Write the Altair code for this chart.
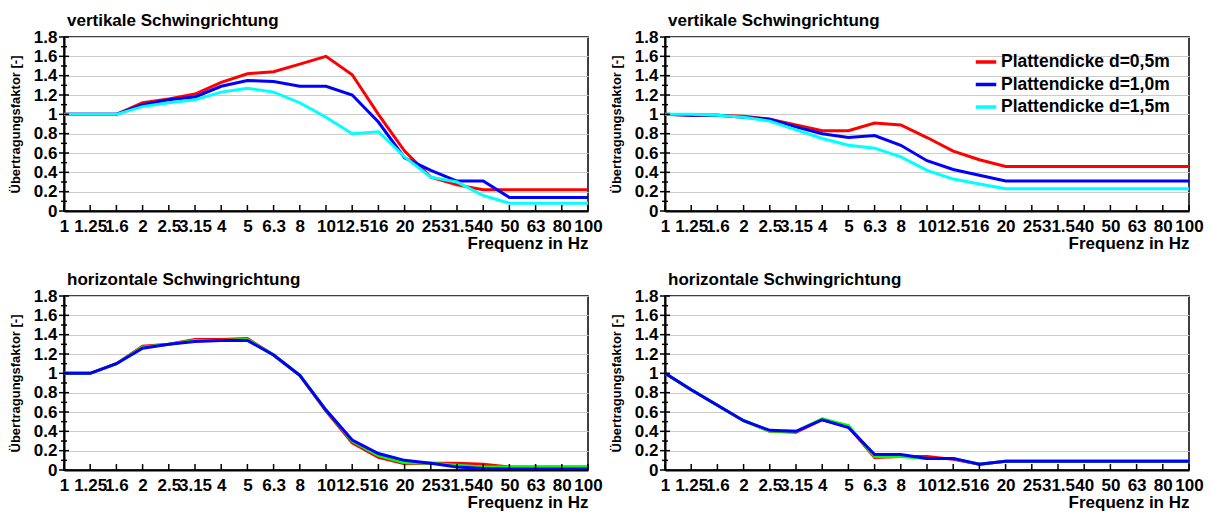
import altair as alt
import pandas as pd

freq = ["1", "1.25", "1.6", "2", "2.5", "3.15", "4", "5", "6.3", "8", "10",
        "12.5", "16", "20", "25", "31.5", "40", "50", "63", "80", "100"]

names = ["Plattendicke d=0,5m", "Plattendicke d=1,0m", "Plattendicke d=1,5m"]

# vertical, left
tl_red = [1.00, 1.00, 1.00, 1.12, 1.16, 1.21, 1.33, 1.42, 1.44, 1.52, 1.60,
          1.41, 1.00, 0.62, 0.35, 0.27, 0.22, 0.22, 0.22, 0.22, 0.22]
tl_blue = [1.00, 1.00, 1.00, 1.10, 1.15, 1.18, 1.29, 1.35, 1.34, 1.29, 1.29,
           1.20, 0.92, 0.55, 0.42, 0.31, 0.31, 0.14, 0.14, 0.14, 0.14]
tl_cyan = [1.00, 1.00, 1.00, 1.08, 1.12, 1.15, 1.23, 1.27, 1.23, 1.12, 0.97,
           0.80, 0.82, 0.56, 0.35, 0.30, 0.16, 0.08, 0.08, 0.08, 0.08]

# vertical, right
tr_red = [1.00, 0.99, 0.99, 0.98, 0.95, 0.89, 0.83, 0.83, 0.91, 0.89, 0.76,
          0.62, 0.53, 0.46, 0.46, 0.46, 0.46, 0.46, 0.46, 0.46, 0.46]
tr_blue = [1.00, 0.99, 0.99, 0.97, 0.95, 0.87, 0.80, 0.76, 0.78, 0.68, 0.52,
           0.43, 0.37, 0.31, 0.31, 0.31, 0.31, 0.31, 0.31, 0.31, 0.31]
tr_cyan = [1.00, 1.00, 0.99, 0.97, 0.93, 0.84, 0.75, 0.68, 0.65, 0.56, 0.42,
           0.33, 0.28, 0.23, 0.23, 0.23, 0.23, 0.23, 0.23, 0.23, 0.23]

# horizontal, left
bl_red = [1.00, 1.00, 1.10, 1.28, 1.30, 1.35, 1.35, 1.36, 1.19, 0.98, 0.61,
          0.28, 0.13, 0.065, 0.07, 0.07, 0.06, 0.03, 0.03, 0.03, 0.03]
bl_green = [1.00, 1.00, 1.10, 1.27, 1.30, 1.34, 1.34, 1.35, 1.19, 0.98, 0.62,
            0.30, 0.15, 0.075, 0.07, 0.05, 0.03, 0.03, 0.03, 0.03, 0.03]
bl_blue = [1.00, 1.00, 1.10, 1.26, 1.30, 1.33, 1.34, 1.34, 1.19, 0.98, 0.62,
           0.31, 0.17, 0.10, 0.07, 0.03, 0.015, 0.01, 0.01, 0.01, 0.01]

# horizontal, right
br_red = [1.00, 0.83, 0.67, 0.51, 0.40, 0.39, 0.52, 0.45, 0.13, 0.14, 0.14,
          0.11, 0.06, 0.09, 0.09, 0.09, 0.09, 0.09, 0.09, 0.09, 0.09]
br_green = [1.00, 0.83, 0.67, 0.51, 0.40, 0.40, 0.53, 0.46, 0.14, 0.14, 0.12,
            0.12, 0.06, 0.09, 0.09, 0.09, 0.09, 0.09, 0.09, 0.09, 0.09]
br_blue = [1.00, 0.83, 0.67, 0.51, 0.41, 0.40, 0.52, 0.44, 0.16, 0.16, 0.12,
           0.12, 0.06, 0.09, 0.09, 0.09, 0.09, 0.09, 0.09, 0.09, 0.09]

y_major = [0, 0.2, 0.4, 0.6, 0.8, 1.0, 1.2, 1.4, 1.6, 1.8]
y_minor = [0.1, 0.3, 0.5, 0.7, 0.9, 1.1, 1.3, 1.5, 1.7]

top_colors = ["#ff0000", "#0000ff", "#00ffff"]
bottom_colors = ["#ff0000", "#00ff00", "#0000ff"]

FONT = "Liberation Sans"
W, H = 524, 174

xscale = alt.Scale(type="point", padding=0, domain=freq)
yscale = alt.Scale(domain=[0, 1.8], nice=False, zero=True)
x_axis = alt.Axis(title="Frequenz in Hz", labelAngle=0,
                  labelOverlap=False, labelBound=False,
                  labelFlush=False, labelPadding=7,
                  titleAnchor="end", titleAlign="right",
                  titlePadding=1)
y_axis = alt.Axis(title="Übertragungsfaktor [-]",
                  values=y_major, format=".1~f",
                  labelPadding=7, titlePadding=11,
                  titleFontSize=13)


def panel(title, series, colors, show_legend=False):
    rows = []
    for i, (name, vals) in enumerate(zip(names, series)):
        for f, v in zip(freq, vals):
            rows.append({"f": f, "v": v, "s": name, "o": i})
    df = pd.DataFrame(rows)

    if show_legend:
        legend = alt.Legend(
            title=None, orient="none", legendX=309, legendY=13,
            symbolType="stroke", symbolStrokeWidth=3.5, symbolSize=420,
            labelFont=FONT, labelFontSize=17.5, labelFontWeight="bold",
            labelColor="black", rowPadding=1.5, labelOffset=3, padding=0,
            labelLimit=0,
        )
    else:
        legend = None

    lines = alt.Chart(df).mark_line(strokeWidth=3, clip=True).encode(
        x=alt.X("f:O", scale=xscale, sort=freq, axis=x_axis),
        y=alt.Y("v:Q", scale=yscale, axis=y_axis),
        color=alt.Color("s:N", scale=alt.Scale(domain=names, range=colors),
                        legend=legend),
        order=alt.Order("o:Q"),
    )

    ymaj = alt.Chart(pd.DataFrame({"v": y_major})).mark_rule(
        color="black", strokeWidth=1.5).encode(
        y=alt.Y("v:Q", scale=yscale, axis=y_axis),
        x=alt.value(-5), x2=alt.value(5))
    ymin = alt.Chart(pd.DataFrame({"v": y_minor})).mark_rule(
        color="black", strokeWidth=1.5).encode(
        y=alt.Y("v:Q", scale=yscale, axis=y_axis),
        x=alt.value(-3), x2=alt.value(3))
    xt = alt.Chart(pd.DataFrame({"f": freq})).mark_rule(
        color="black", strokeWidth=1.5).encode(
        x=alt.X("f:O", scale=xscale, sort=freq, axis=x_axis),
        y=alt.value(H), y2=alt.value(H - 6))

    return alt.layer(lines, ymaj, ymin, xt).properties(
        width=W, height=H,
        title=alt.TitleParams(title, anchor="start", frame="group",
                              font=FONT, fontSize=17, fontWeight="bold",
                              color="black", offset=-2, dx=3),
    )


tl = panel("vertikale Schwingrichtung", [tl_red, tl_blue, tl_cyan], top_colors)
tr = panel("vertikale Schwingrichtung", [tr_red, tr_blue, tr_cyan], top_colors,
           show_legend=True)
bl = panel("horizontale Schwingrichtung", [bl_red, bl_green, bl_blue], bottom_colors)
br = panel("horizontale Schwingrichtung", [br_red, br_green, br_blue], bottom_colors)

chart = alt.concat(
    tl, tr, bl, br, columns=2, spacing={"row": 85, "column": 77}, bounds="flush"
).resolve_scale(
    color="independent"
).properties(
    padding={"left": 8, "top": 11, "right": 0, "bottom": 0},
    background="white",
).configure_view(
    stroke="black", strokeWidth=1.5
).configure_axis(
    domainColor="black", domainWidth=2, ticks=False,
    gridColor="#cccccc", gridWidth=1,
    labelFont=FONT, labelFontSize=17, labelFontWeight="bold", labelColor="black",
    titleFont=FONT, titleFontSize=17, titleFontWeight="bold", titleColor="black",
)

chart.save("out.html", embed_options={"renderer": "svg", "actions": False})
